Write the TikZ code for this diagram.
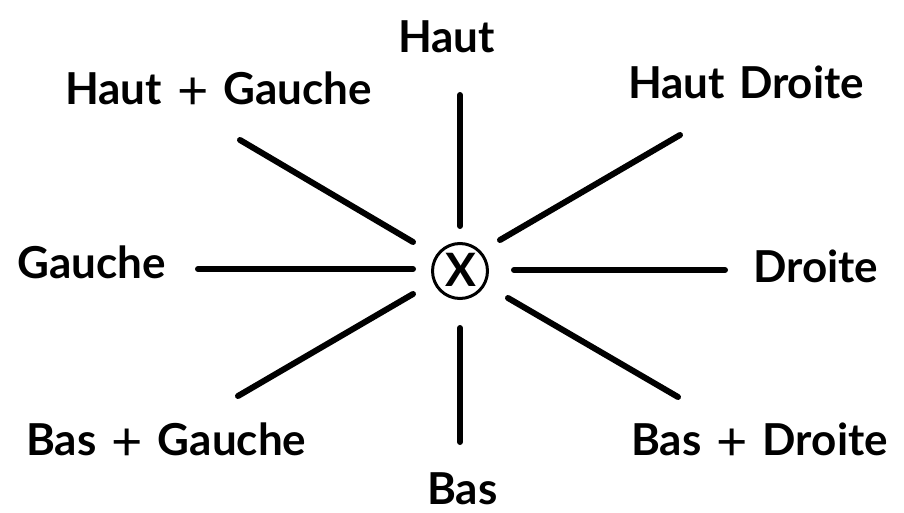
\documentclass[tikz,border=0pt]{standalone}
\usepackage{fontspec}
\setmainfont{Lato}[UprightFont=* Bold]
\newfontfamily\thinfont{Lato}
\newcommand{\pl}{\hspace{15pt}\raisebox{-5pt}{\thinfont\fontsize{54}{54}\selectfont +}\hspace{15pt}}
\begin{document}
\begin{tikzpicture}[x=1pt,y=-1pt,
  spoke/.style={line width=6pt,line cap=round},
  lbl/.style={font=\fontsize{44}{44}\selectfont,inner sep=0pt,anchor=base west}]
\useasboundingbox (0,0) rectangle (904,513);
% centre
\node[circle,draw,line width=3pt,minimum size=55pt,inner sep=0pt] (ctr) at (460,271) {};
\node[font=\fontsize{46}{46}\selectfont,inner sep=0pt] (x) at (461,270) {X};
% labels
\node[lbl] (haut) at (398,53) {Haut};
\node[lbl] (hg) at (65,105) {Haut\pl Gauche};
\node[lbl] (hd) at (628,99) {Haut\hspace{14pt}Droite};
\node[lbl] (g) at (17,278) {Gauche};
\node[lbl] (d) at (753,282) {Droite};
\node[lbl] (bg) at (26,455) {Bas\pl Gauche};
\node[lbl] (bd) at (631,455) {Bas\pl Droite};
\node[lbl] (bas) at (427,504) {Bas};
% spoke ends
\coordinate (n1) at (460,95);  \coordinate (n2) at (460,226);
\coordinate (s1) at (460,328); \coordinate (s2) at (460,442);
\coordinate (w1) at (198,269); \coordinate (w2) at (413,269);
\coordinate (e1) at (514,270); \coordinate (e2) at (725,270);
\coordinate (nw1) at (240,140); \coordinate (nw2) at (413,242);
\coordinate (ne1) at (680,135); \coordinate (ne2) at (500,240);
\coordinate (sw1) at (238,396); \coordinate (sw2) at (413,294);
\coordinate (se1) at (508,298); \coordinate (se2) at (678,397);
\draw[spoke] (n1) -- (n2);
\draw[spoke] (s1) -- (s2);
\draw[spoke] (w1) -- (w2);
\draw[spoke] (e1) -- (e2);
\draw[spoke] (nw1) -- (nw2);
\draw[spoke] (ne1) -- (ne2);
\draw[spoke] (sw1) -- (sw2);
\draw[spoke] (se1) -- (se2);
\end{tikzpicture}
\end{document}
